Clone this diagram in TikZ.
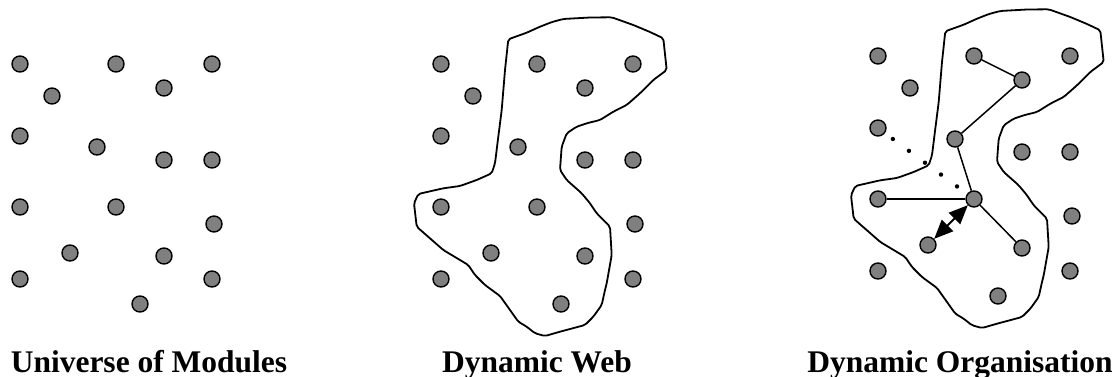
\documentclass[tikz,border=0pt]{standalone}
\usepackage{fontspec}
\setmainfont{Liberation Serif}
\usetikzlibrary{arrows.meta,calc}
\tikzset{
  dot/.style={circle,draw=black,fill=black!50,line width=1.4pt,minimum size=16pt,inner sep=0pt},
  blob/.style={draw=black,line width=1.8pt,line join=round,rounded corners=2pt},
  link/.style={draw=black,line width=1.5pt},
  dblarrow/.style={draw=black,line width=1.8pt,{Triangle[length=19pt,width=16pt]}-{Triangle[length=19pt,width=16pt]}},
  caption/.style={anchor=base,inner sep=0pt,font=\bfseries\fontsize{31.5}{36}\selectfont}
}
\def\blobpath{(508.3,39.3) -- (526.7,32.7) -- (540,26.7) -- (552,22) -- (563.3,19) -- (590,17.5) -- (611.7,17.3) -- (633.3,25) -- (650,32) -- (663.3,38.3) -- (666.7,70) -- (653.3,80) -- (640,93.3) -- (626.7,105) -- (613.3,111.7) -- (600,120) -- (586.7,123.3) -- (576.7,126.7) -- (566.7,133.3) -- (561.7,146.7) -- (560.7,160) -- (560,170) -- (566.7,180) -- (581.7,193.3) -- (590,203.3) -- (596.7,213.3) -- (610,226.7) -- (611.7,255) -- (606.7,283.3) -- (605,290) -- (601.7,305) -- (593.3,316.7) -- (585,325) -- (560,331.7) -- (545,336) -- (535,333.3) -- (526.7,326.7) -- (518.3,321.7) -- (510,310) -- (500,296) -- (485,285) -- (475,275) -- (468.3,265) -- (443.3,250) -- (416.7,226.7) -- (414,203.3) -- (418.3,194) -- (443.3,188.3) -- (460,186) -- (476.7,180) -- (491.7,173.3) -- (495,163.3) -- (498.3,136.7) -- (501.7,110) -- (505,70) -- cycle}
\begin{document}
\begin{tikzpicture}[x=1pt,y=-1pt]
\useasboundingbox (0,0) rectangle (1114,377);
% blobs
\draw[blob] \blobpath;
\begin{scope}[shift={(437,-8)}]
\draw[blob] \blobpath;
\end{scope}
% dots
\foreach \i/\x/\y in {1/20/64,2/116/64,3/212/64,4/52/96,5/164/88,6/20/136,7/97/147,8/164/160,9/212/160,10/20/207,11/116/207,12/214/224,13/70/253,14/164/256,15/20/279,16/212/279,17/140/304}{
  \node[dot] (a\i) at (\x,\y) {};
  \node[dot] (b\i) at (\x+421,\y) {};
  \node[dot] (c\i) at (\x+858,\y-8) {};
}
% links in panel 3
\draw[link] (c2) -- (c5);
\draw[link] (c5) -- (c7);
\draw[link] (c7) -- (c11);
\draw[link] (c10) -- (c11);
\draw[link] (c11) -- (c14);
\draw[dblarrow] (c13) -- (c11);
\foreach \t in {0.155,0.322,0.489,0.656,0.823}
  \fill ($(c6)!\t!(c11)$) circle (2.2pt);
% captions
\node[caption] (l1) at (149,372) {Universe of Modules};
\node[caption] (l2) at (537,372) {Dynamic Web};
\node[caption] (l3) at (960,372) {Dynamic Organisation};
\end{tikzpicture}
\end{document}
